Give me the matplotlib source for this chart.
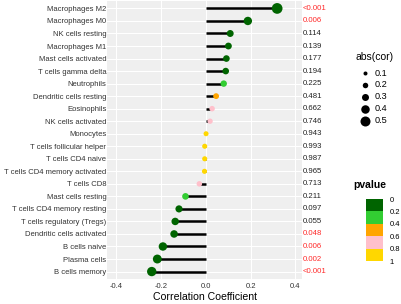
import numpy as np
import matplotlib
matplotlib.use("Agg")
import matplotlib.pyplot as plt
from matplotlib.colors import ListedColormap, BoundaryNorm
from matplotlib.colorbar import ColorbarBase

plt.rcParams["font.family"] = ["Liberation Sans", "DejaVu Sans"]

# cell types, listed top to bottom
cells = ["Macrophages M2", "Macrophages M0", "NK cells resting", "Macrophages M1",
         "Mast cells activated", "T cells gamma delta", "Neutrophils",
         "Dendritic cells resting", "Eosinophils", "NK cells activated", "Monocytes",
         "T cells follicular helper", "T cells CD4 naive", "T cells CD4 memory activated",
         "T cells CD8", "Mast cells resting", "T cells CD4 memory resting",
         "T cells regulatory (Tregs)", "Dendritic cells activated", "B cells naive",
         "Plasma cells", "B cells memory"]
cor = [0.319, 0.188, 0.109, 0.101, 0.092, 0.089, 0.080, 0.046, 0.028, 0.019, 0.001,
       -0.005, -0.005, -0.006, -0.029, -0.091, -0.120, -0.137, -0.142, -0.192,
       -0.217, -0.242]
pvals = [0.0005, 0.006, 0.114, 0.139, 0.177, 0.194, 0.225, 0.481, 0.662, 0.746, 0.943,
         0.993, 0.987, 0.965, 0.713, 0.211, 0.097, 0.055, 0.048, 0.006, 0.002, 0.0005]
ptext = ["<0.001", "0.006", "0.114", "0.139", "0.177", "0.194", "0.225", "0.481",
         "0.662", "0.746", "0.943", "0.993", "0.987", "0.965", "0.713", "0.211",
         "0.097", "0.055", "0.048", "0.006", "0.002", "<0.001"]

size_levels = [0.1, 0.2, 0.3, 0.4, 0.5]
p_bounds = [0, 0.2, 0.4, 0.6, 0.8, 1]
p_colors = ["#006400", "#32CD32", "#FFA500", "#FFC0CB", "#FFD700"]

cmap = ListedColormap(p_colors)
norm = BoundaryNorm(p_bounds, cmap.N)

dpi = 100
fig = plt.figure(figsize=(4.01, 3.04), dpi=dpi)
ax = fig.add_axes([0.268, 0.082, 0.485, 0.915])

n = len(cells)
y = np.arange(n)[::-1]
cor = np.array(cor)

# point size: diameter in px -> points^2
def dot_size(v):
    d_px = 5 + 18 * np.abs(v)
    return (d_px * 72 / dpi) ** 2

ax.hlines(y, 0, cor, color="black", lw=1.8, zorder=2)
ax.scatter(cor, y, s=dot_size(cor), c=cmap(norm(pvals)), zorder=3, linewidths=0)

ax.set_facecolor("#EFEFEF")
ax.grid(True, color="white", lw=0.8)
ax.set_axisbelow(True)
for s in ax.spines.values():
    s.set_visible(False)
ax.set_xlim(-0.44, 0.43)
ax.set_ylim(-0.6, n - 0.4)
ax.set_xticks([-0.4, -0.2, 0.0, 0.2, 0.4])
ax.set_xticklabels(["-0.4", "-0.2", "0.0", "0.2", "0.4"])
ax.set_yticks(y)
ax.set_yticklabels(cells)
ax.tick_params(labelsize=5.5, colors="#333333", length=0, pad=0.8)
ax.tick_params(axis="x", pad=3)
ax.set_xlabel("Correlation Coefficient", fontsize=7.6, labelpad=1)

for yi, t, p in zip(y, ptext, pvals):
    ax.text(1.005, yi, t, transform=ax.get_yaxis_transform(), va="center", ha="left",
            fontsize=5.6, color="#FF2A2A" if p < 0.05 else "#222222")

# size legend
fig.text(375 / 401, 1 - 57 / 304, "abs(cor)", ha="center", va="center", fontsize=7.5)
lax = fig.add_axes([0, 0, 1, 1], facecolor="none")
lax.set_xlim(0, 401)
lax.set_ylim(304, 0)
lax.axis("off")
ly = [73, 84.5, 96.5, 108.5, 120.5]
for v, yy in zip(size_levels, ly):
    d_px = 2.5 + 15 * v
    lax.scatter([364.5], [yy], s=(d_px * 72 / dpi) ** 2, color="black", linewidths=0)
    lax.text(375, yy, f"{v:.1f}", va="center", ha="left", fontsize=6.6)

# pvalue legend
fig.text(369.5 / 401, 1 - 185 / 304, "pvalue", ha="center", va="center",
         fontsize=7.5, fontweight="bold")
cax = fig.add_axes([366 / 401, 1 - 261 / 304, 16.5 / 401, 62 / 304])
cb = ColorbarBase(cax, cmap=cmap, norm=norm, boundaries=p_bounds, ticks=p_bounds,
                  orientation="vertical")
cb.outline.set_visible(False)
cax.invert_yaxis()
cax.tick_params(labelsize=5.5, length=0, pad=5)
cax.set_yticklabels(["0", "0.2", "0.4", "0.6", "0.8", "1"])

fig.savefig("out.png", dpi=dpi)
